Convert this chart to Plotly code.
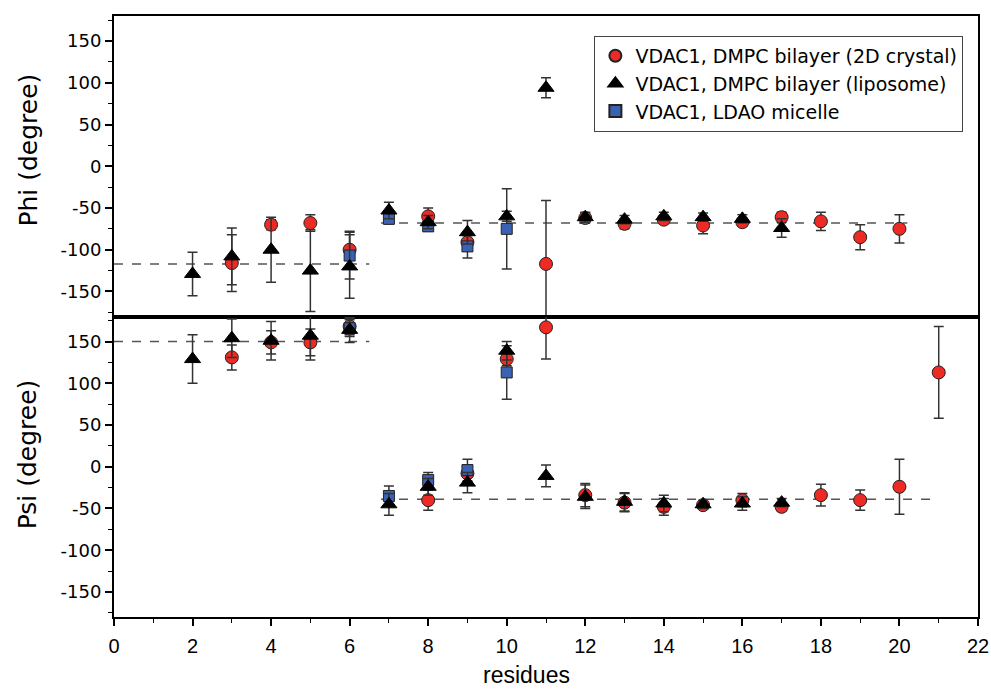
import plotly.graph_objects as go
from plotly.subplots import make_subplots

# ---- data ----
red_res_phi = [3, 4, 5, 6, 8, 9, 11, 12, 13, 14, 15, 16, 17, 18, 19, 20]
red_phi = [-116, -70, -68, -100, -60, -91, -117, -62, -69, -64, -71, -67, -61, -66, -85, -75]
red_phi_err = [34, 6, 10, 22, 10, 8, 76, 6, 6, 5, 10, 5, 6, 11, 15, 17]
red_res_psi = [3, 4, 5, 6, 8, 9, 10, 11, 12, 13, 14, 15, 16, 17, 18, 19, 20, 21]
red_psi = [131, 149, 149, 168, -40, -8, 129, 167, -34, -43, -48, -46, -40, -48, -34, -40, -24, 113]
red_psi_err = [15, 14, 16, 10, 12, 10, 8, 38, 14, 11, 10, 5, 8, 5, 13, 12, 33, 55]

tri_res = [2, 3, 4, 5, 6, 7, 8, 9, 10, 11, 12, 13, 14, 15, 16, 17]
tri_phi = [-129, -108, -100, -125, -120, -53, -67, -79, -60, 94, -61, -64, -60, -61, -63, -74]
tri_phi_err = [26, 34, 39, 49, 38, 10, 8, 14, 6, 12, 6, 5, 5, 5, 5, 11]
tri_psi = [129, 154, 151, 157, 164, -45, -24, -19, 139, -11, -36, -42, -44, -45, -44, -43]
tri_psi_err = [29, 23, 23, 29, 15, 13, 10, 12, 11, 13, 14, 11, 10, 5, 8, 5]

blue_res = [6, 7, 8, 9, 10]
blue_phi = [-107, -63, -72, -96, -75]
blue_phi_err = [28, 6, 6, 14, 48]
blue_psi = [166, -35, -16, -4, 113]
blue_psi_err = [10, 12, 9, 13, 32]

# reference (average) lines: x extents and values
phi_ref_x = [[0, 6.5], [6.8, 20.2]]
phi_ref_y = [-117, -68]
psi_ref_x = [[0, 6.5], [6.8, 21.0]]
psi_ref_y = [150, -39]

y_tick_vals = [-150, -100, -50, 0, 50, 100, 150]
y_tick_text = ["-150", "-100", "-50", "0", "50", "100", "150"]
x_tick_vals = list(range(0, 23, 2))

names = ["VDAC1, DMPC bilayer (2D crystal)", "VDAC1, DMPC bilayer (liposome)", "VDAC1, LDAO micelle"]
x_title = "residues"
y_titles = ["Phi (degree)", "Psi (degree)"]

RED = "#ee2a24"
BLUE = "#3b61b3"
ERRC = "#333333"

fig = make_subplots(rows=2, cols=1, shared_xaxes=True, vertical_spacing=0)

# dashed reference lines
for xs, yv in zip(phi_ref_x, phi_ref_y):
    fig.add_trace(go.Scatter(x=xs, y=[yv, yv], mode="lines", showlegend=False, hoverinfo="skip",
                             line=dict(color="#555555", width=1.5, dash="dash")), row=1, col=1)
for xs, yv in zip(psi_ref_x, psi_ref_y):
    fig.add_trace(go.Scatter(x=xs, y=[yv, yv], mode="lines", showlegend=False, hoverinfo="skip",
                             line=dict(color="#555555", width=1.5, dash="dash")), row=2, col=1)

def err(arr):
    return dict(type="data", array=arr, color=ERRC, thickness=1.5, width=5)

# red circles
fig.add_trace(go.Scatter(x=red_res_phi, y=red_phi, mode="markers", name=names[0], legendgroup="r", legendrank=1,
                         marker=dict(symbol="circle", size=13, color=RED, line=dict(color="#222", width=1)),
                         error_y=err(red_phi_err)), row=1, col=1)
fig.add_trace(go.Scatter(x=red_res_psi, y=red_psi, mode="markers", name=names[0], legendgroup="r", showlegend=False,
                         marker=dict(symbol="circle", size=13, color=RED, line=dict(color="#222", width=1)),
                         error_y=err(red_psi_err)), row=2, col=1)
# blue squares
fig.add_trace(go.Scatter(x=blue_res, y=blue_phi, mode="markers", name=names[2], legendgroup="b", legendrank=3,
                         marker=dict(symbol="square", size=11, color=BLUE, line=dict(color="#222", width=1)),
                         error_y=err(blue_phi_err)), row=1, col=1)
fig.add_trace(go.Scatter(x=blue_res, y=blue_psi, mode="markers", name=names[2], legendgroup="b", showlegend=False,
                         marker=dict(symbol="square", size=11, color=BLUE, line=dict(color="#222", width=1)),
                         error_y=err(blue_psi_err)), row=2, col=1)
# black triangles
fig.add_trace(go.Scatter(x=tri_res, y=tri_phi, mode="markers", name=names[1], legendgroup="t", legendrank=2,
                         marker=dict(symbol="triangle-up", size=14, color="black", line=dict(color="black", width=1)),
                         error_y=err(tri_phi_err)), row=1, col=1)
fig.add_trace(go.Scatter(x=tri_res, y=tri_psi, mode="markers", name=names[1], legendgroup="t", showlegend=False,
                         marker=dict(symbol="triangle-up", size=14, color="black", line=dict(color="black", width=1)),
                         error_y=err(tri_psi_err)), row=2, col=1)

WIDE = "DejaVu Sans, Liberation Sans, Arial, sans-serif"
NARROW = "Liberation Sans Narrow, Arial Narrow, Liberation Sans, sans-serif"

yax = dict(range=[-180, 180], tickvals=y_tick_vals, ticktext=y_tick_text, ticks="outside", ticklen=7,
           tickwidth=1.5, tickcolor="black", showline=True, linecolor="black", linewidth=2, mirror=True,
           showgrid=False, zeroline=False, tickfont=dict(family=WIDE, size=18, color="black"), automargin=False,
           minor=dict(ticks="outside", ticklen=4, tickwidth=1.2, tickcolor="black", dtick=25, tick0=0, showgrid=False))
fig.update_yaxes(**yax)

fig.update_xaxes(range=[0, 22], showline=True, linecolor="black", linewidth=2, mirror=True,
                 showgrid=False, zeroline=False, automargin=False)
fig.update_xaxes(ticks="", showticklabels=False, row=1, col=1)
fig.update_xaxes(tickvals=x_tick_vals, ticks="outside", ticklen=7, tickwidth=1.5, tickcolor="black",
                 tickfont=dict(family=NARROW, size=20, color="black"), ticklabelstandoff=3,
                 minor=dict(ticks="outside", ticklen=4, tickwidth=1.2, tickcolor="black", dtick=1, tick0=0),
                 row=2, col=1)

# axis titles placed as annotations (offset like the reference)
fig.add_annotation(text=x_title, xref="paper", yref="paper", x=0.477, y=-0.097, xanchor="center", yanchor="middle",
                   showarrow=False, font=dict(family=NARROW, size=23, color="black"))
fig.add_annotation(text=y_titles[0], xref="paper", yref="paper", x=-0.1, y=0.777, xanchor="center", yanchor="middle",
                   textangle=-90, showarrow=False, font=dict(family=WIDE, size=25, color="black"))
fig.add_annotation(text=y_titles[1], xref="paper", yref="paper", x=-0.1, y=0.27, xanchor="center", yanchor="middle",
                   textangle=-90, showarrow=False, font=dict(family=WIDE, size=25, color="black"))

fig.update_layout(
    width=991, height=693,
    margin=dict(l=114, r=13, t=16, b=76),
    plot_bgcolor="white", paper_bgcolor="white",
    font=dict(family=WIDE, color="black"),
    legend=dict(x=0.556, y=0.967, xanchor="left", yanchor="top", bgcolor="white",
                bordercolor="#444", borderwidth=1, font=dict(family=WIDE, size=19, color="black"),
                tracegroupgap=0, itemsizing="constant"),
    showlegend=True,
)

fig.write_html("out.html")
